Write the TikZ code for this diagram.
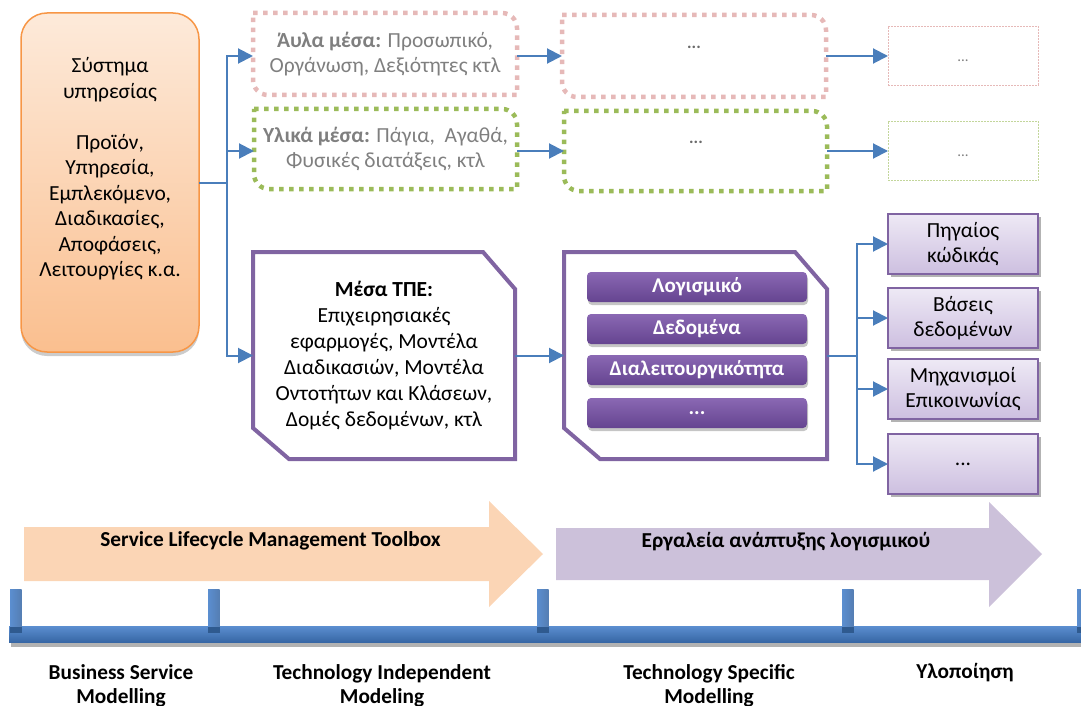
\documentclass[tikz,border=0pt]{standalone}
\usepackage{fontspec}
\setmainfont{Carlito}
\usetikzlibrary{arrows.meta,shadows}

\definecolor{flowblue}{HTML}{4A7EBB}
\definecolor{orangeedge}{HTML}{F79646}
\definecolor{orangetop}{HTML}{FDEADA}
\definecolor{orangebot}{HTML}{FABF8F}
\definecolor{pinkdot}{HTML}{E6B9B8}
\definecolor{greendot}{HTML}{9BBB59}
\definecolor{greenthin}{HTML}{C3D69B}
\definecolor{purpleedge}{HTML}{8064A2}
\definecolor{lavtop}{HTML}{EEE9F5}
\definecolor{lavbot}{HTML}{CDBFE0}
\definecolor{bartop}{HTML}{8A68B3}
\definecolor{barbot}{HTML}{654490}
\definecolor{greytext}{HTML}{7F7F7F}
\definecolor{dotgrey}{HTML}{6A6A6A}
\definecolor{peacharrow}{HTML}{FBD5B5}
\definecolor{lilacarrow}{HTML}{CCC1DA}
\definecolor{railtop}{HTML}{5B8ED0}
\definecolor{railbot}{HTML}{3767A5}
\definecolor{tickdark}{HTML}{2F5A8F}

% frame with rounded top-right and bottom-left corners
\newcommand\rounddiag[2]{%
  \draw[#2] (#1.north west) -- ([xshift=-15pt]#1.north east)
    .. controls ([xshift=-6.7pt]#1.north east) and ([yshift=-6.7pt]#1.north east) ..
    ([yshift=-15pt]#1.north east) -- (#1.south east) -- ([xshift=15pt]#1.south west)
    .. controls ([xshift=6.7pt]#1.south west) and ([yshift=6.7pt]#1.south west) ..
    ([yshift=15pt]#1.south west) -- cycle;}
% frame with snipped top-right and bottom-left corners
\newcommand\snipframe[1]{%
  \draw[snipline] (#1.north west) -- ([xshift=-32pt]#1.north east)
    -- ([yshift=-37pt]#1.north east) -- (#1.south east)
    -- ([xshift=36pt]#1.south west) -- ([yshift=31pt]#1.south west) -- cycle;}

\begin{document}
\begin{tikzpicture}[x=1pt,y=-1pt,
  every node/.style={inner sep=0pt,outer sep=0pt},
  txt/.style={font=\fontsize{21.5}{25.5}\selectfont,align=center},
  greytxt/.style={txt,text=greytext},
  lbl/.style={font=\fontsize{21.3}{24.5}\selectfont\bfseries,align=center},
  flow/.style={draw=flowblue,line width=2pt,-{Triangle[length=15pt,width=15pt]}},
  dotline/.style={line width=4.5pt,dash pattern=on 4.5pt off 5.5pt},
  snipline/.style={draw=purpleedge,line width=4pt,line join=miter},
  thinframe/.style={draw=#1,line width=1pt,dash pattern=on 2pt off 1pt,
    minimum width=150pt,minimum height=59pt},
  middots/.style={font=\fontsize{17}{17}\selectfont\bfseries,text=dotgrey},
  smalldots/.style={font=\fontsize{15}{15}\selectfont,text=greytext},
  outbox/.style={draw=purpleedge,line width=1.8pt,top color=lavtop,bottom color=lavbot,
    minimum width=150pt,minimum height=60pt,txt,
    drop shadow={shadow xshift=2.5pt,shadow yshift=-3pt,fill=black!50,opacity=.6}},
  barbox/.style={rounded corners=4pt,top color=bartop,bottom color=barbot,
    minimum width=220pt,minimum height=30pt,text=white,
    font=\fontsize{21}{22}\selectfont\bfseries,
    drop shadow={shadow xshift=1pt,shadow yshift=-3pt,fill=black!45,opacity=.5}}]

\useasboundingbox (0,0) rectangle (1081,706);

% ---- source box ----
\node[draw=orangeedge,line width=1.5pt,rounded corners=26pt,
      top color=orangetop,bottom color=orangebot,
      minimum width=178pt,minimum height=339pt,
      drop shadow={shadow xshift=0pt,shadow yshift=-4pt,fill=black!40,opacity=.5}]
      (sys) at (110,182.5) {};
\node[txt] (systext) at (110,169) {Σύστημα\\υπηρεσίας\\[25.5pt]Προϊόν,\\Υπηρεσία,\\Εμπλεκόμενο,\\Διαδικασίες,\\Αποφάσεις,\\Λειτουργίες κ.α.};

% ---- intangible resources row ----
\node[greytxt,minimum width=264pt,minimum height=82pt] (aylo1) at (385,54)
  {\textbf{Άυλα μέσα:} Προσωπικό,\\Οργάνωση, Δεξιότητες κτλ};
\rounddiag{aylo1}{draw=pinkdot,dotline}
\node[minimum width=264pt,minimum height=82pt] (aylo2) at (694,56) {};
\rounddiag{aylo2}{draw=pinkdot,dotline}
\node[middots] (aylo2dots) at (694,47) {...};
\node[thinframe=pinkdot] (aylo3) at (963,56) {};
\node[smalldots] (aylo3dots) at (963,61) {...};

% ---- tangible resources row ----
\node[greytxt,minimum width=263pt,minimum height=80pt] (yliko1) at (385.5,149)
  {\textbf{Υλικά μέσα:} Πάγια,\ \ Αγαθά,\\Φυσικές διατάξεις, κτλ};
\rounddiag{yliko1}{draw=greendot,dotline}
\node[minimum width=263pt,minimum height=80pt] (yliko2) at (695.5,151) {};
\rounddiag{yliko2}{draw=greendot,dotline}
\node[middots] (yliko2dots) at (696,142) {...};
\node[thinframe=greenthin] (yliko3) at (963,151) {};
\node[smalldots] (yliko3dots) at (963,156) {...};

% ---- ICT resources ----
\node[txt,font=\fontsize{21.5}{26}\selectfont,minimum width=262pt,minimum height=207pt]
  (tpe1) at (384,355.5) {\textbf{Μέσα ΤΠΕ:}\\Επιχειρησιακές\\εφαρμογές, Μοντέλα\\Διαδικασιών, Μοντέλα\\Οντοτήτων και Κλάσεων,\\Δομές δεδομένων, κτλ};
\snipframe{tpe1}
\node[minimum width=263pt,minimum height=207pt] (tpe2) at (695.5,355.5) {};
\snipframe{tpe2}
\node[barbox] (bar1) at (697,287) {Λογισμικό};
\node[barbox] (bar2) at (697,329) {Δεδομένα};
\node[barbox] (bar3) at (697,370) {Διαλειτουργικότητα};
\node[barbox] (bar4) at (697,413) {...};

% ---- outputs ----
\node[outbox] (out1) at (963,244) {Πηγαίος\\κώδικάς};
\node[outbox] (out2) at (963,318) {Βάσεις\\δεδομένων};
\node[outbox] (out3) at (963,389) {Μηχανισμοί\\Επικοινωνίας};
\node[outbox] (out4) at (963,464) {...};

% ---- connectors ----
\coordinate (split1) at (227,182.5);
\draw[flow] (sys.east) -- (split1) |- ([yshift=-2pt]aylo1.west);
\draw[flow] (split1) |- ([yshift=-2pt]yliko1.west);
\draw[flow] (split1) |- (tpe1.west);
\draw[flow] ([yshift=-2pt]aylo1.east) -- (aylo2.west);
\draw[flow] (aylo2.east) -- (aylo3.west);
\draw[flow] ([yshift=-2pt]yliko1.east) -- (yliko2.west);
\draw[flow] (yliko2.east) -- (yliko3.west);
\draw[flow] (tpe1.east) -- (tpe2.west);
\coordinate (split2) at (857,355.5);
\draw[flow] (tpe2.east) -- (split2) |- (out1.west);
\draw[flow] (split2) |- (out2.west);
\draw[flow] (split2) |- (out3.west);
\draw[flow] (split2) |- (out4.west);

% ---- toolbox arrows ----
\fill[peacharrow] (24,527) -- (489,527) -- (489,501) -- (543,554) -- (489,607) -- (489,581) -- (24,581) -- cycle;
\node[lbl] (slmt) at (270.5,541) {Service Lifecycle Management Toolbox};
\fill[lilacarrow] (556,528) -- (989,528) -- (989,502) -- (1042,554) -- (989,607) -- (989,580) -- (556,580) -- cycle;
\node[lbl] (swtools) at (786,542) {Εργαλεία ανάπτυξης λογισμικού};

% ---- timeline ----
\fill[black!30] (11,642) rectangle (1081,647);
\shade[top color=railtop,bottom color=railbot] (9,626) rectangle (1081,642);
\foreach \tx in {10,208,537,842,1077}{
  \shade[left color=railtop,right color=railbot!85] (\tx,589) rectangle (\tx+11.5,628);
  \fill[tickdark] (\tx,627) rectangle (\tx+11.5,633);
}

% ---- phase labels ----
\node[lbl] (ph1) at (121,686) {Business Service\\Modelling};
\node[lbl] (ph2) at (382,686) {Technology Independent\\Modeling};
\node[lbl] (ph3) at (709,686) {Technology Specific\\Modelling};
\node[lbl] (ph4) at (965,673) {Υλοποίηση};
\end{tikzpicture}
\end{document}
